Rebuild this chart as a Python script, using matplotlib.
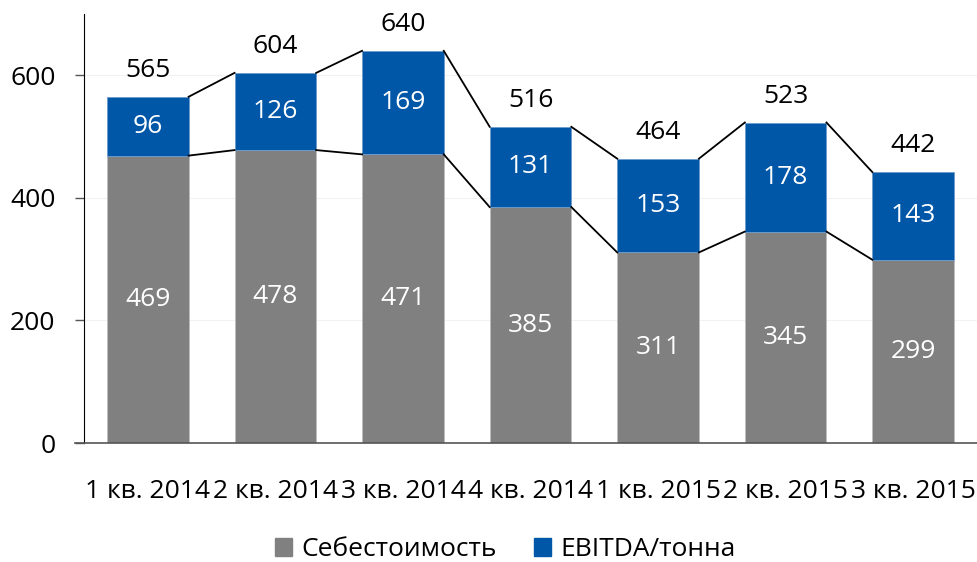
import matplotlib.pyplot as plt
from matplotlib.patches import Patch

categories = ["1 кв. 2014", "2 кв. 2014", "3 кв. 2014", "4 кв. 2014",
              "1 кв. 2015", "2 кв. 2015", "3 кв. 2015"]
cost = [469, 478, 471, 385, 311, 345, 299]
ebitda = [96, 126, 169, 131, 153, 178, 143]
totals = [565, 604, 640, 516, 464, 523, 442]

grey = "#808080"
blue = "#0057a8"
width = 0.64
fs = 19

plt.rcParams['font.family'] = ['Open Sans', 'DejaVu Sans']

fig = plt.figure(figsize=(9.77, 5.62), dpi=100)
ax = fig.add_axes([0.086, 0.2117, 0.914, 0.7633])

x = list(range(len(categories)))
ax.bar(x, cost, width, color=grey, edgecolor="#bdbdbd", linewidth=0.6, zorder=2)
ax.bar(x, ebitda, width, bottom=cost, color=blue, edgecolor="#6d9ccc", linewidth=0.6, zorder=2)

# connector lines between neighbouring bars
for i in range(len(x) - 1):
    x0 = x[i] + width / 2
    x1 = x[i + 1] - width / 2
    ax.plot([x0, x1], [totals[i], totals[i + 1]], color="black", lw=1.3, zorder=3)
    ax.plot([x0, x1], [cost[i], cost[i + 1]], color="black", lw=1.3, zorder=3)

for i in x:
    ax.text(i, cost[i] / 2, str(cost[i]), ha="center", va="center",
            color="white", fontsize=fs, zorder=4)
    ax.text(i, cost[i] + ebitda[i] / 2, str(ebitda[i]), ha="center", va="center",
            color="white", fontsize=fs, zorder=4)
    ax.annotate(str(totals[i]), (i, totals[i]), xytext=(0, 19), textcoords="offset points",
                ha="center", va="center", color="black", fontsize=fs)

ax.set_xlim(-0.5, len(x) - 0.5)
ax.set_ylim(0, 700)
ax.set_yticks([0, 200, 400, 600])
ax.set_xticks(x)
ax.set_xticklabels(categories)
ax.tick_params(axis="x", length=0, pad=26, labelsize=fs)
ax.tick_params(axis="y", length=6.5, width=1, color="#555555", pad=14, labelsize=fs)
ax.grid(axis="y", color="#f2f2f2", lw=0.8, zorder=0)

for s in ["top", "right"]:
    ax.spines[s].set_visible(False)
ax.spines["left"].set_color("black")
ax.spines["bottom"].set_color("#555555")
ax.spines["bottom"].set_bounds(-0.57, len(x) - 0.5)
ax.spines["bottom"].set_linewidth(1.2)

handles = [Patch(color=grey, label="Себестоимость"), Patch(color=blue, label="EBITDA/тонна")]
fig.legend(handles=handles, loc="center", bbox_to_anchor=(0.517, 0.022), ncol=2,
           frameon=False, fontsize=fs, handlelength=0.65, handleheight=0.65,
           handletextpad=0.35, columnspacing=1.4)

fig.savefig("out.png", dpi=100)
